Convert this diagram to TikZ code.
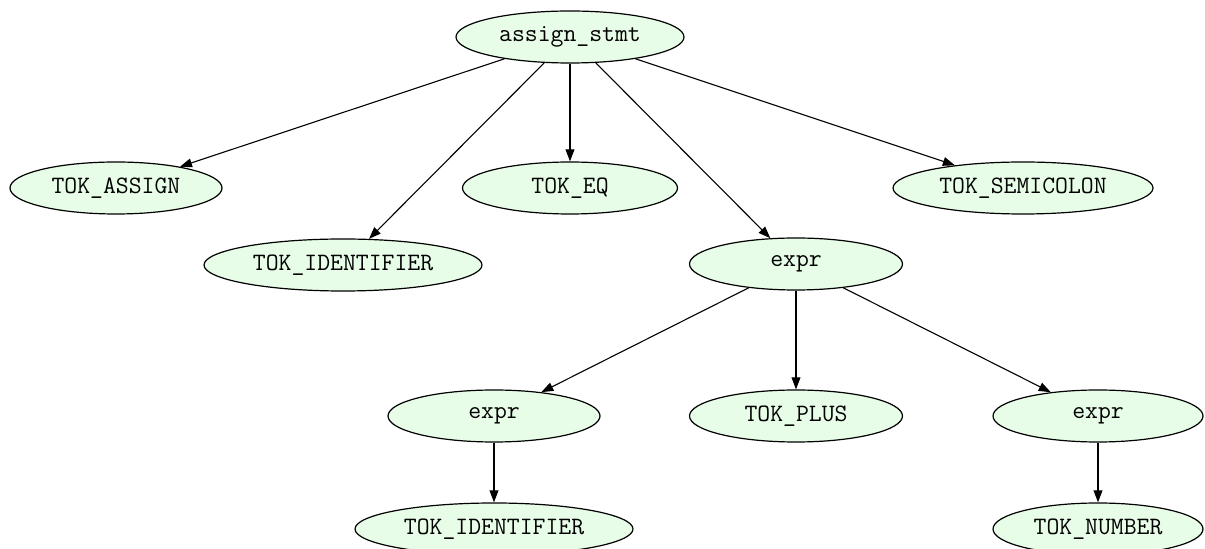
\documentclass[tikz,border=0pt]{standalone}
\usepackage{fontspec}
\usepackage{xcolor}
\usetikzlibrary{shapes.geometric,arrows.meta}

\definecolor{leafgreen}{RGB}{232,253,232}

\begin{document}
\begin{tikzpicture}[x=0.5pt,y=-0.5pt,
    tnode/.style={ellipse, draw, line width=0.6pt, fill=leafgreen,
        minimum width=#1, minimum height=26pt, inner xsep=0pt,
        inner ysep=1pt, font=\ttfamily\fontsize{12.5}{15}\selectfont},
    tnode/.default=106pt,
    tedge/.style={-{Triangle[length=6pt,width=4.4pt]}, line width=0.55pt}]

    \useasboundingbox (0,0) rectangle (1205,549);

    % root
    \node[tnode=114pt] (assign) at (570,37) {assign\_stmt};

    % first level
    \node[tnode] (tokassign) at (116,188) {TOK\_ASSIGN};
    \node[tnode=139pt] (tokid) at (343,265) {TOK\_IDENTIFIER};
    \node[tnode=107.5pt] (tokeq) at (570,188) {TOK\_EQ};
    \node[tnode=106.5pt] (expr) at (796,264) {expr};
    \node[tnode=130pt] (toksemi) at (1023,188) {TOK\_SEMICOLON};

    % second level
    \node[tnode] (exprl) at (494,416) {expr};
    \node[tnode=106.5pt] (tokplus) at (796,416) {TOK\_PLUS};
    \node[tnode=105pt] (exprr) at (1098,416) {expr};

    % leaves
    \node[tnode=139pt] (tokidb) at (494,529) {TOK\_IDENTIFIER};
    \node[tnode=105pt] (toknum) at (1098,529) {TOK\_NUMBER};

    % edges
    \foreach \a/\b in {assign/tokassign, assign/tokid, assign/tokeq,
        assign/expr, assign/toksemi, expr/exprl, expr/tokplus,
        expr/exprr, exprl/tokidb, exprr/toknum}
        \draw[tedge] (\a) -- (\b);
\end{tikzpicture}
\end{document}
